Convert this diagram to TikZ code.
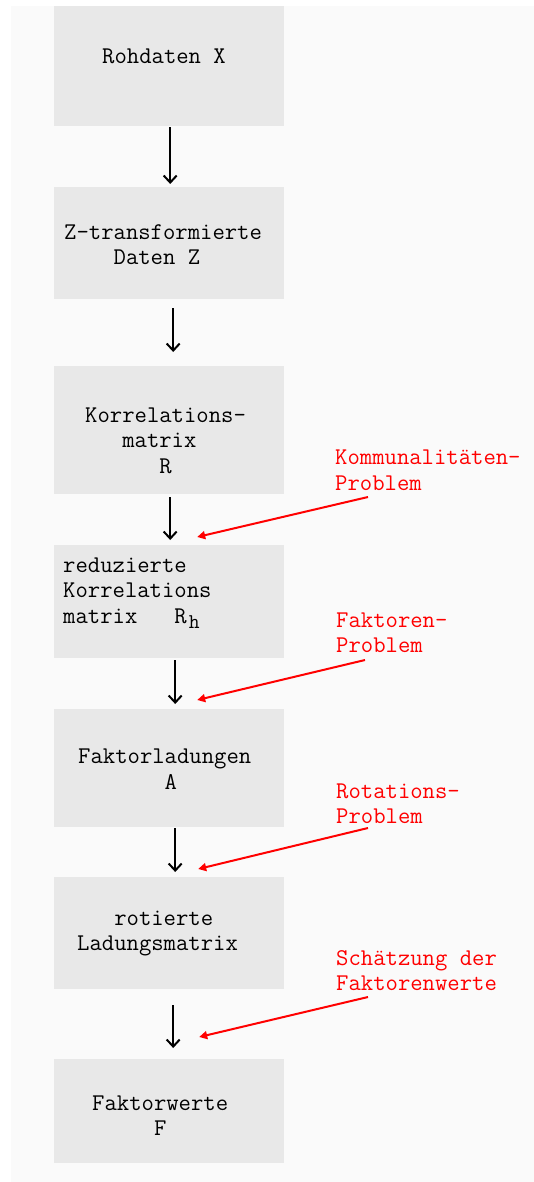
\documentclass[tikz,border=0pt]{standalone}
\usetikzlibrary{arrows.meta}
\definecolor{panelgray}{HTML}{FAFAFA}
\definecolor{boxgray}{HTML}{E8E8E8}
\definecolor{notered}{HTML}{FF0000}
\begin{document}
\begin{tikzpicture}[x=1pt,y=-1pt,
  stepbox/.style={fill=boxgray, draw=none, minimum width=230pt, anchor=north west, inner sep=0pt},
  txt/.style={anchor=base west, inner sep=0pt, font=\ttfamily\fontsize{24}{25.5}\selectfont},
  note/.style={txt, text=notered},
  flow/.style={line width=2pt, -{Straight Barb[length=7pt,width=13pt,line width=2pt]}},
  hint/.style={notered, line width=2pt, -{Triangle[length=8pt,width=8pt]}}]

% page and light panel
\useasboundingbox (0,0) rectangle (534,1182);
\fill[white] (0,0) rectangle (534,1182);
\fill[panelgray] (11,6) rectangle (534,1182);

% process steps
\node[stepbox, minimum height=120pt] (b1) at (54,6) {};
\node[stepbox, minimum height=112pt] (b2) at (54,187) {};
\node[stepbox, minimum height=128pt] (b3) at (54,366) {};
\node[stepbox, minimum height=113pt] (b4) at (54,545) {};
\node[stepbox, minimum height=118pt] (b5) at (54,709) {};
\node[stepbox, minimum height=112pt] (b6) at (54,877) {};
\node[stepbox, minimum height=104pt] (b7) at (54,1059) {};

% step texts
\node[txt] (t1a) at (102,64) {Rohdaten X};
\node[txt] (t2a) at (64,240) {Z-transformierte};
\node[txt] (t2b) at (64,265) {~~~~Daten Z};
\node[txt] (t3a) at (85,422) {Korrelations-};
\node[txt] (t3b) at (85,447) {~~~matrix};
\node[txt] (t3c) at (85,473) {~~~~~~R};
\node[txt] (t4a) at (63,572) {reduzierte};
\node[txt] (t4b) at (63,597) {Korrelations};
\node[txt] (t4c) at (63,623) {matrix~~~R\hspace{2pt}\raisebox{-5pt}{\fontsize{21}{21}\selectfont h}};
\node[txt] (t5a) at (78,763) {Faktorladungen};
\node[txt] (t5b) at (78,789) {~~~~~~~A};
\node[txt] (t6a) at (77,925) {~~~rotierte};
\node[txt] (t6b) at (77,950) {Ladungsmatrix};
\node[txt] (t7a) at (92,1110) {Faktorwerte};
\node[txt] (t7b) at (92,1135) {~~~~~F};

% flow arrows
\draw[flow] ([xshift=1pt,yshift=-1pt]b1.south) -- ([xshift=1pt,yshift=3pt]b2.north);
\draw[flow] ([xshift=4pt,yshift=-9pt]b2.south) -- ([xshift=4pt,yshift=14pt]b3.north);
\draw[flow] ([xshift=1pt,yshift=-3pt]b3.south) -- ([xshift=1pt,yshift=5pt]b4.north);
\draw[flow] ([xshift=6pt,yshift=-2pt]b4.south) -- ([xshift=6pt,yshift=5pt]b5.north);
\draw[flow] ([xshift=6pt,yshift=-1pt]b5.south) -- ([xshift=6pt,yshift=5pt]b6.north);
\draw[flow] ([xshift=4pt,yshift=-16pt]b6.south) -- ([xshift=4pt,yshift=11pt]b7.north);

% problem notes
\node[note] (n1a) at (335,464) {Kommunalitäten-};
\node[note] (n1b) at (335,490) {Problem};
\node[note] (n2a) at (336,627) {Faktoren-};
\node[note] (n2b) at (336,652) {Problem};
\node[note] (n3a) at (336,798) {Rotations-};
\node[note] (n3b) at (336,823) {Problem};
\node[note] (n4a) at (336,965) {Schätzung der};
\node[note] (n4b) at (336,990) {Faktorenwerte};

\coordinate (h1) at (368,497);
\coordinate (h2) at (365,660);
\coordinate (h3) at (368,828);
\coordinate (h4) at (368,997);
\draw[hint] (h1) -- ([xshift=28pt,yshift=8pt]b4.north);
\draw[hint] (h2) -- ([xshift=28pt,yshift=9pt]b5.north);
\draw[hint] (h3) -- ([xshift=29pt,yshift=8pt]b6.north);
\draw[hint] (h4) -- ([xshift=30pt,yshift=22pt]b7.north);
\end{tikzpicture}
\end{document}
